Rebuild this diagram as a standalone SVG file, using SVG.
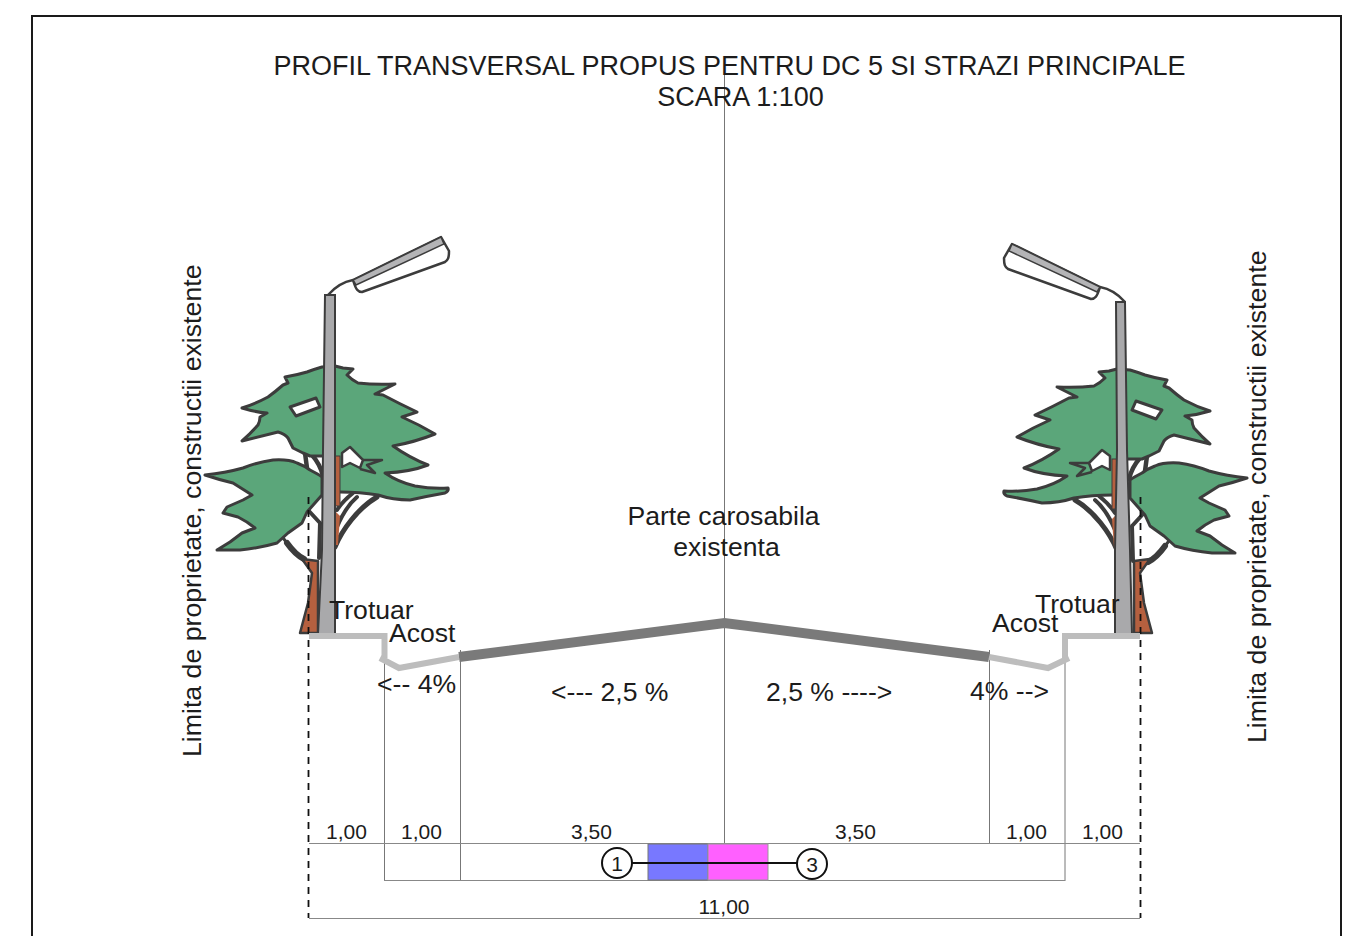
<svg xmlns="http://www.w3.org/2000/svg" width="1352" height="936" viewBox="0 0 1352 936">
<style>
text{font-family:"Liberation Sans",Arial,sans-serif;fill:#1c1c1c}
.t{font-size:27px}.m{font-size:26.6px}.d{font-size:21px}.v{font-size:26.7px}
.a{text-anchor:middle}
.thin{stroke:#777;stroke-width:1;fill:none}
.dash{stroke:#111;stroke-width:1.8;stroke-dasharray:7 6;fill:none}
.crown{fill:#5ba67a;stroke:#3c3c3c;stroke-width:3;stroke-linejoin:round}
.bark{fill:#b5603f;stroke:#3c3c3c;stroke-width:2.500;stroke-linejoin:round}
.br{fill:none;stroke:#3c3c3c;stroke-width:4;stroke-linecap:round}
.pole{fill:#a9a9ab;stroke:#3c3c3c;stroke-width:2}
.walk{fill:none;stroke:#bdbdbd;stroke-width:6;stroke-linejoin:miter}
.road{fill:none;stroke:#7a7a7a;stroke-width:10}
</style>
<defs>
<g id="tree">
<path class="br" d="M335 547C342 530 358 508 377 497" style="stroke-width:5"/>
<path class="br" d="M337 527C342 515 350 503 357 497M337 510C342 502 348 497 353 493"/>
<path class="br" d="M287 543C292 550 298 556 304 559M308 510L320 523M320 523L319 558"/>
<path class="br" d="M273 525L287 543" style="stroke-width:3"/>
<path class="br" d="M287 543C292 550 298 556 304 559" style="stroke-width:6"/>
<path class="br" d="M305 453L307 468M312 455Q320 464 323 476" style="stroke-width:4.500"/>
<path class="crown" d="M322 367L335 366 343 368 353 369 347 375Q352 380 358 383Q375 385 395 384L375 394 383 395Q400 404 417 412L402 417Q420 425 435 434Q415 442 393 446Q410 458 428 465Q410 472 385 473Q398 482 415 486Q432 489 448 488Q449 491 445 493Q428 496 410 500Q393 500 378 495Q360 492 340 492L330 492 330 456 310 456 303 453 293 448 288 438Q285 434 278 432Q262 436 242 441Q250 434 258 425Q260 421 260 417L267 413Q255 412 242 408Q255 404 268 397Q275 392 283 385L288 383 285 377Q297 375 307 372Q315 369 322 367Z"/>
<path d="M290 407L316 398 320 407 296 416Z" fill="#fff" stroke="#3c3c3c" stroke-width="3" stroke-linejoin="round"/>
<path d="M342 453L350 447 363 460 360 468 350 463 342 467Z" fill="#fff" stroke="#3c3c3c" stroke-width="2.500" stroke-linejoin="round"/>
<path d="M363 460L382 460 367 465 375 473 360 469" fill="none" stroke="#3c3c3c" stroke-width="2.500" stroke-linejoin="round"/>
<path class="crown" d="M205 475Q225 473 243 468Q258 462 273 460Q288 459 297 463Q305 466 310 470Q318 474 322 477L322 495 307 512 302 523 288 533 277 543Q260 548 240 550L217 550 230 542 242 533 255 528Q248 522 238 517L223 513 227 507 243 500 252 495 233 483Q220 480 205 475Z"/>
<rect x="335" y="456" width="5" height="50" fill="#b5603f" stroke="#3c3c3c" stroke-width="1"/>
<path d="M336 512L340 516 338 545 335 545Z" fill="#b5603f"/>
</g>
<path id="base" class="bark" d="M302 559L318 561 318 633 300 633 308 603 312 573Z"/>
<g id="lamp">
<path d="M328 295C335 287 342 282 353 280" fill="none" stroke="#3c3c3c" stroke-width="2.500"/>
<path d="M353 280L441 237 449 251C449 258 448 260 445 262L362 292C358 292 356 290 353 280Z" fill="#fff" stroke="#3c3c3c" stroke-width="2.500" stroke-linejoin="round"/>
<path d="M353 280L441 237 444 244 356 285Z" fill="#b4b4b6" stroke="#3c3c3c" stroke-width="1.500"/>
</g>
</defs>

<rect id="frame" x="32" y="16" width="1309" height="960" fill="#fff" stroke="#1a1a1a" stroke-width="2"/>

<g id="tree-left"><use href="#tree"/><use href="#base"/></g>
<g id="tree-right"><use href="#tree" transform="matrix(-1 0 0 1 1452 3)"/><use href="#base" transform="matrix(-1 0 0 1 1452 0)"/></g>
<g id="lamp-left"><use href="#lamp"/><path class="pole" d="M325 295L335 295 335 634 318 634 322 550 323 450Z"/></g>
<g id="lamp-right"><use href="#lamp" transform="matrix(-1 0 0 1 1453 7)"/><path class="pole" d="M1116 302L1125 302 1127 450 1130 550 1132 634 1115 634 1115 550 1117 450Z"/></g>

<g id="connectors">
<path class="thin" d="M724.500 60V844M384.500 655V881M460.500 650V881M989.500 650V844M1065 650V881"/>
<path class="thin" d="M309 843.500H1140M384 880.500H1065M309 918.500H1140" style="stroke:#888"/>
<path class="dash" d="M308.500 497V918M1140.500 497V918"/>
</g>

<g id="road">
<path class="walk" d="M309 636H384.500V658"/>
<path class="walk" d="M380 658L399 668 459 657"/>
<path class="walk" d="M1140 636H1065V658"/>
<path class="walk" d="M1069 658L1048 668 989 657"/>
<path class="road" d="M459 657L724.500 623 989 657"/>
</g>

<g id="marker">
<rect x="648" y="844" width="60" height="36" fill="#7878ff" stroke="#777"/>
<rect x="708" y="844" width="60" height="36" fill="#ff60ff" stroke="#999"/>
<path d="M632 863H797" stroke="#111" stroke-width="2"/>
<circle cx="617" cy="863" r="15" fill="#fff" stroke="#111" stroke-width="2"/>
<circle cx="812" cy="864" r="15" fill="#fff" stroke="#111" stroke-width="2"/>
<text class="d a" x="617" y="871">1</text>
<text class="d a" x="812" y="872">3</text>
</g>

<g id="labels">
<text class="t a" x="729.500" y="75">PROFIL TRANSVERSAL PROPUS PENTRU DC 5 SI STRAZI PRINCIPALE</text>
<text class="t a" x="740.500" y="106">SCARA 1:100</text>
<text class="m a" x="723.500" y="525">Parte carosabila</text>
<text class="m a" x="726.500" y="556">existenta</text>
<text class="m" x="329" y="619">Trotuar</text>
<text class="m" x="389" y="642">Acost</text>
<text class="m" x="1035" y="613">Trotuar</text>
<text class="m" x="992" y="632">Acost</text>
<text class="m" x="377" y="693">&lt;-- 4%</text>
<text class="m" x="551" y="701">&lt;--- 2,5 %</text>
<text class="m" x="766" y="701">2,5 % ----&gt;</text>
<text class="m" x="970" y="700">4% --&gt;</text>
<text class="d a" x="346.500" y="839">1,00</text>
<text class="d a" x="421.500" y="839">1,00</text>
<text class="d a" x="591.500" y="839">3,50</text>
<text class="d a" x="855.500" y="839">3,50</text>
<text class="d a" x="1026.500" y="839">1,00</text>
<text class="d a" x="1102.500" y="839">1,00</text>
<text class="d a" x="724" y="914">11,00</text>
<text class="v" transform="translate(201 757) rotate(-90)">Limita de proprietate, constructii existente</text>
<text class="v" transform="translate(1266 743) rotate(-90)">Limita de proprietate, constructii existente</text>
</g>
</svg>
